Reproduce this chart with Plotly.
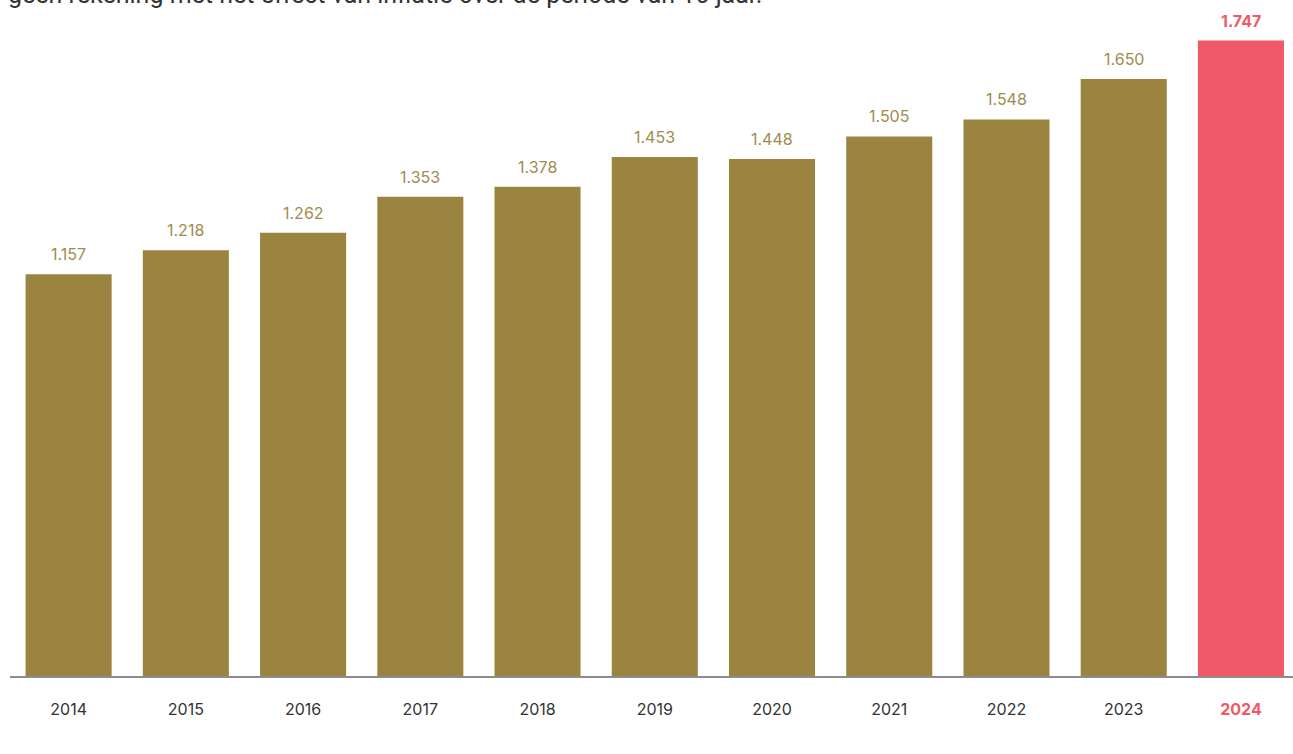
import plotly.graph_objects as go

years = ["2014", "2015", "2016", "2017", "2018", "2019", "2020", "2021", "2022", "2023", "2024"]
values = [1157, 1218, 1262, 1353, 1378, 1453, 1448, 1505, 1548, 1650, 1747]
labels = ["1.157", "1.218", "1.262", "1.353", "1.378", "1.453", "1.448", "1.505", "1.548", "1.650", "1.747"]
caption = "geen rekening met het effect van inflatie over de periode van 10 jaar."

GOLD = "#9B8440"
GOLD_TXT = "#A08B50"
RED = "#F05A68"
FONT = "Inter, Lato, sans-serif"

colors = [RED if y == "2024" else GOLD for y in years]

fig = go.Figure()
fig.add_trace(go.Bar(
    x=list(range(len(years))), y=values, marker=dict(color=colors, line=dict(width=0)),
    width=0.734, hoverinfo="skip",
))

for i, (v, lab) in enumerate(zip(values, labels)):
    last = years[i] == "2024"
    fig.add_annotation(
        x=i, y=v, xref="x", yref="y", text=f"<b>{lab}</b>" if last else lab,
        showarrow=False, yanchor="middle", yshift=20,
        font=dict(family=FONT, size=16, color=RED if last else GOLD_TXT),
    )

ticktext = [f"<b><span style='color:{RED}'>{y}</span></b>" if y == "2024" else y for y in years]

fig.add_annotation(
    x=0, xref="paper", xanchor="left", xshift=-4,
    y=1.0300, yref="paper", yanchor="bottom",
    text=caption, showarrow=False,
    font=dict(family="Roboto, sans-serif", size=25, color="#333333"),
)

fig.update_layout(
    width=1293, height=754,
    margin=dict(l=10, r=0, t=30, b=78),
    paper_bgcolor="white", plot_bgcolor="white",
    showlegend=False,
    xaxis=dict(
        range=[-0.5, 10.444], tickvals=list(range(len(years))), ticktext=ticktext,
        showgrid=False, zeroline=False, showline=True, linecolor="#8C8C8C", linewidth=1.5,
        ticks="", ticklabelstandoff=18,
        tickfont=dict(family=FONT, size=16, color="#333333"),
    ),
    yaxis=dict(range=[143.6, 1773.6], visible=False, showgrid=False, zeroline=False),
)

fig.write_html(
    "out.html",
    config={"displayModeBar": False},
    post_script="document.body.style.margin='0';document.body.style.overflow='hidden';",
)
